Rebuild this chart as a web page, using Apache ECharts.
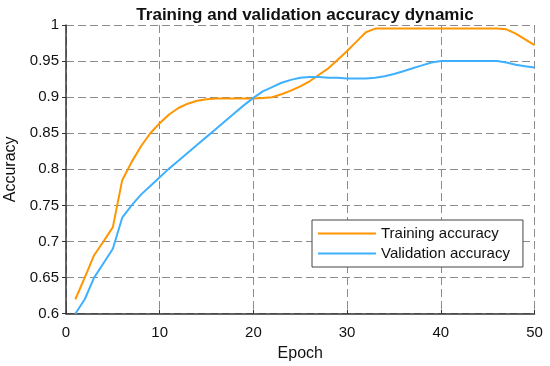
<!DOCTYPE html>
<html>
<head>
<meta charset="utf-8">
<script src="https://cdn.jsdelivr.net/npm/echarts@6/dist/echarts.min.js"></script>
<style>html,body{margin:0;padding:0;background:#fff}#c{width:550px;height:366px}</style>
</head>
<body>
<div id="c"></div>
<script>
const epochs = [1,2,3,4,5,6,7,8,9,10,11,12,13,14,15,16,17,18,19,20,21,22,23,24,25,26,27,28,29,30,31,32,33,34,35,36,37,38,39,40,41,42,43,44,45,46,47,48,49,50];
const trainAcc = [0.620,0.650,0.681,0.700,0.720,0.785,0.810,0.832,0.850,0.864,0.876,0.885,0.891,0.895,0.897,0.898,0.898,0.898,0.898,0.898,0.899,0.900,0.904,0.909,0.915,0.922,0.931,0.940,0.952,0.964,0.977,0.990,0.995,0.995,0.995,0.995,0.995,0.995,0.995,0.995,0.995,0.995,0.995,0.995,0.995,0.995,0.994,0.988,0.980,0.972];
const valAcc = [0.600,0.620,0.650,0.670,0.690,0.733,0.750,0.765,0.777,0.789,0.801,0.812,0.823,0.834,0.845,0.856,0.867,0.878,0.889,0.899,0.908,0.914,0.920,0.924,0.927,0.928,0.928,0.927,0.927,0.926,0.926,0.926,0.927,0.929,0.932,0.936,0.940,0.944,0.948,0.950,0.950,0.950,0.950,0.950,0.950,0.950,0.948,0.945,0.943,0.941];
const seriesNames = ['Training accuracy','Validation accuracy'];
const titleText = 'Training and validation accuracy dynamic';

const font = 'Liberation Sans, Arial, Helvetica, sans-serif';
const chart = echarts.init(document.getElementById('c'), null, {renderer:'canvas'});
const pair = (ys) => epochs.map((e,i)=>[e, ys[i]]);
chart.setOption({
  animation:false,
  backgroundColor:'#fff',
  title:{text:titleText, left:300, textAlign:'center', top:2,
    textStyle:{fontFamily:font, fontSize:17, fontWeight:'bold', color:'#111'}},
  grid:{left:66, right:15.5, top:25, bottom:52.3, containLabel:false, outerBoundsMode:'none'},
  legend:{
    orient:'vertical', left:312, top:220, data:seriesNames,
    backgroundColor:'#fff', borderColor:'#444', borderWidth:1, borderRadius:0,
    padding:[6,13,6,6], itemWidth:58, itemHeight:2, itemGap:5, icon:'rect',
    textStyle:{fontFamily:font, fontSize:15, color:'#111', lineHeight:15}
  },
  xAxis:{type:'value', min:0, max:50, interval:10,
    name:'Epoch', nameLocation:'middle', nameGap:32,
    nameTextStyle:{fontFamily:font, fontSize:16, color:'#111'},
    axisLine:{show:true, onZero:false, lineStyle:{color:'#333', width:1.5}},
    axisTick:{show:true, inside:true, length:4, lineStyle:{color:'#333', width:1}},
    axisLabel:{fontFamily:font, fontSize:15, color:'#111', margin:12},
    splitLine:{show:true, lineStyle:{color:'#8c8c8c', type:[8,4], width:1}}},
  yAxis:{type:'value', min:0.6, max:1, interval:0.05,
    name:'Accuracy', nameLocation:'middle', nameGap:42,
    nameTextStyle:{fontFamily:font, fontSize:16, color:'#111'},
    axisLine:{show:true, onZero:false, lineStyle:{color:'#333', width:1.5}},
    axisTick:{show:true, inside:false, length:4, lineStyle:{color:'#333', width:1}},
    axisLabel:{fontFamily:font, fontSize:15, color:'#111', margin:7},
    splitLine:{show:true, lineStyle:{color:'#8c8c8c', type:[8,4], width:1}}},
  series:[
    {name:seriesNames[0], type:'line', data:pair(trainAcc), showSymbol:false, smooth:false,
      lineStyle:{color:'#FF9500', width:2}, itemStyle:{color:'#FF9500'}},
    {name:seriesNames[1], type:'line', data:pair(valAcc), showSymbol:false, smooth:false,
      lineStyle:{color:'#3FB0FF', width:2}, itemStyle:{color:'#3FB0FF'}}
  ]
});
</script>
</body>
</html>
